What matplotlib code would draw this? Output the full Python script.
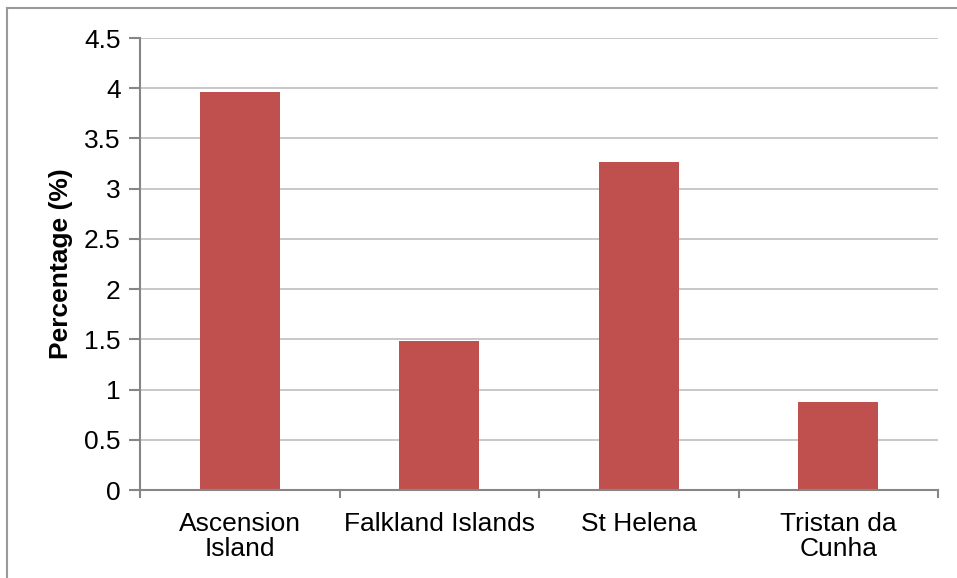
"""Bar chart of percentage by island."""
import matplotlib.pyplot as plt
from matplotlib.lines import Line2D

plt.rcParams["font.family"] = ["Liberation Sans", "DejaVu Sans"]

categories = ["Ascension\nIsland", "Falkland Islands", "St Helena", "Tristan da\nCunha"]
values = [3.96, 1.48, 3.27, 0.88]
yticks = [0, 0.5, 1, 1.5, 2, 2.5, 3, 3.5, 4, 4.5]

BAR_COLOR = "#c0504d"
AXIS_COLOR = "#868686"
GRID_COLOR = "#bfbfbf"
FS = 19

fig = plt.figure(figsize=(9.57, 5.78), dpi=100)
ax = fig.add_axes([140 / 957, 88 / 578, 798 / 957, 452 / 578])

xs = range(len(categories))
ax.bar(xs, values, width=0.4, color=BAR_COLOR, zorder=3)

# Axis limits and ticks.
ax.set_xlim(-0.5, len(categories) - 0.5)
ax.set_ylim(0, 4.5)
ax.set_yticks(yticks)
ax.set_yticklabels([f"{t:g}" for t in yticks], fontsize=FS)
ax.set_xticks(list(xs))
ax.set_xticklabels(categories, fontsize=FS, linespacing=1.05)
ax.tick_params(axis="x", length=0, pad=16)
ax.tick_params(axis="y", length=8, color=AXIS_COLOR, width=1.5, pad=6)

# Category boundary ticks on the x axis.
for b in [i - 0.5 for i in range(len(categories) + 1)]:
    ax.plot([b, b], [0, -0.07], color=AXIS_COLOR, lw=1.5, clip_on=False, zorder=4)

ax.grid(axis="y", color=GRID_COLOR, lw=1.2, zorder=0)
for side in ["top", "right"]:
    ax.spines[side].set_visible(False)
for side in ["left", "bottom"]:
    ax.spines[side].set_color(AXIS_COLOR)
    ax.spines[side].set_linewidth(1.5)
ax.spines["left"].set_zorder(4)
ax.spines["bottom"].set_zorder(4)

ax.set_ylabel("Percentage (%)", fontsize=FS, fontweight="bold", labelpad=8)

# Outer chart border (left and top edges visible).
fig.add_artist(Line2D([7 / 957, 7 / 957], [0, 1 - 8 / 578], transform=fig.transFigure,
                      color="#999999", lw=1.5))
fig.add_artist(Line2D([7 / 957, 1], [1 - 8 / 578, 1 - 8 / 578], transform=fig.transFigure,
                      color="#999999", lw=1.5))

fig.savefig("out.png", dpi=100)
